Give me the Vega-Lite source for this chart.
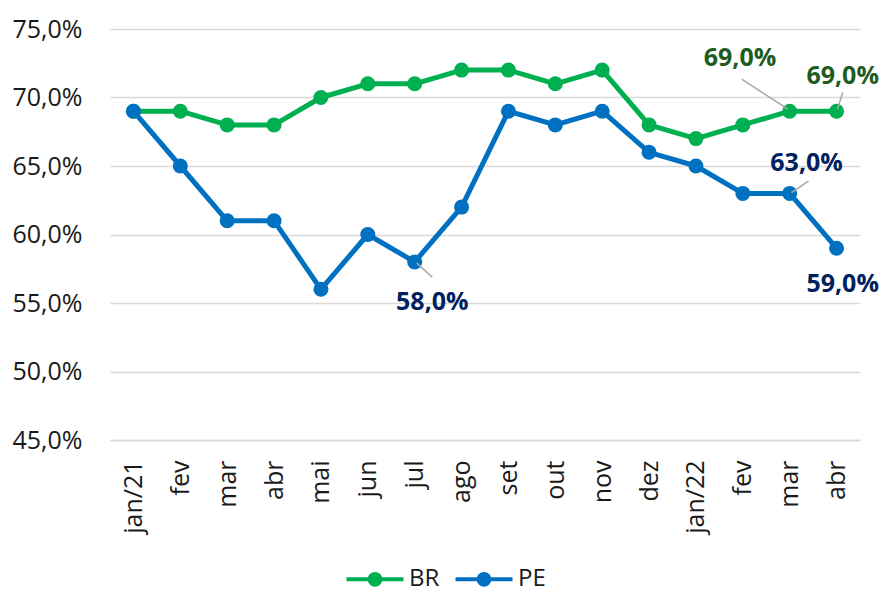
{
  "$schema": "https://vega.github.io/schema/vega-lite/v6.json",
  "autosize": "none",
  "width": 750,
  "height": 411,
  "padding": {"left": 110, "top": 29, "right": 22, "bottom": 149},
  "background": "white",
  "config": {
    "view": {"stroke": null},
    "font": "Open Sans",
    "axis": {"labelFont": "Open Sans", "labelColor": "#1a1a1a", "ticks": false, "title": null},
    "legend": {"labelFont": "Open Sans"}
  },
  "datasets": {
    "series": [
      {"i": 0, "month": "jan/21", "series": "BR", "value": 69},
      {"i": 1, "month": "fev", "series": "BR", "value": 69},
      {"i": 2, "month": "mar", "series": "BR", "value": 68},
      {"i": 3, "month": "abr", "series": "BR", "value": 68},
      {"i": 4, "month": "mai", "series": "BR", "value": 70},
      {"i": 5, "month": "jun", "series": "BR", "value": 71},
      {"i": 6, "month": "jul", "series": "BR", "value": 71},
      {"i": 7, "month": "ago", "series": "BR", "value": 72},
      {"i": 8, "month": "set", "series": "BR", "value": 72},
      {"i": 9, "month": "out", "series": "BR", "value": 71},
      {"i": 10, "month": "nov", "series": "BR", "value": 72},
      {"i": 11, "month": "dez", "series": "BR", "value": 68},
      {"i": 12, "month": "jan/22", "series": "BR", "value": 67},
      {"i": 13, "month": "fev", "series": "BR", "value": 68},
      {"i": 14, "month": "mar", "series": "BR", "value": 69},
      {"i": 15, "month": "abr", "series": "BR", "value": 69},
      {"i": 0, "month": "jan/21", "series": "PE", "value": 69},
      {"i": 1, "month": "fev", "series": "PE", "value": 65},
      {"i": 2, "month": "mar", "series": "PE", "value": 61},
      {"i": 3, "month": "abr", "series": "PE", "value": 61},
      {"i": 4, "month": "mai", "series": "PE", "value": 56},
      {"i": 5, "month": "jun", "series": "PE", "value": 60},
      {"i": 6, "month": "jul", "series": "PE", "value": 58},
      {"i": 7, "month": "ago", "series": "PE", "value": 62},
      {"i": 8, "month": "set", "series": "PE", "value": 69},
      {"i": 9, "month": "out", "series": "PE", "value": 68},
      {"i": 10, "month": "nov", "series": "PE", "value": 69},
      {"i": 11, "month": "dez", "series": "PE", "value": 66},
      {"i": 12, "month": "jan/22", "series": "PE", "value": 65},
      {"i": 13, "month": "fev", "series": "PE", "value": 63},
      {"i": 14, "month": "mar", "series": "PE", "value": 63},
      {"i": 15, "month": "abr", "series": "PE", "value": 59}
    ],
    "labels": [
      {"series": "BR", "x": 12.94, "y": 72.85, "label": "69,0%"},
      {"series": "BR", "x": 15.13, "y": 71.6, "label": "69,0%"},
      {"series": "PE", "x": 14.36, "y": 65.2, "label": "63,0%"},
      {"series": "PE", "x": 15.13, "y": 56.4, "label": "59,0%"},
      {"series": "PE", "x": 6.376, "y": 55.05, "label": "58,0%"}
    ],
    "leaders": [
      {"x": 12.976, "y": 71.34, "x2": 13.96, "y2": 69.15},
      {"x": 15.13, "y": 70.37, "x2": 15.02, "y2": 69.15},
      {"x": 14.4, "y": 63.9, "x2": 14.04, "y2": 63.05},
      {"x": 6.04, "y": 57.93, "x2": 6.376, "y2": 56.88}
    ]
  },
  "layer": [
    {
      "data": {"name": "series"},
      "mark": {"type": "line", "strokeWidth": 5, "strokeJoin": "round"},
      "encoding": {
        "x": {
          "field": "i", "type": "quantitative",
          "scale": {"domain": [-0.5, 15.5], "nice": false, "zero": false},
          "axis": {
            "values": [0, 1, 2, 3, 4, 5, 6, 7, 8, 9, 10, 11, 12, 13, 14, 15],
            "labelExpr": "['jan/21','fev','mar','abr','mai','jun','jul','ago','set','out','nov','dez','jan/22','fev','mar','abr'][datum.value]",
            "labelAngle": -90, "labelFontSize": 25, "labelPadding": 20,
            "grid": false, "domain": true, "domainColor": "#D9D9D9", "domainWidth": 1.5,
            "labelFlush": false, "labelOverlap": false
          }
        },
        "y": {
          "field": "value", "type": "quantitative",
          "scale": {"domain": [45, 75], "nice": false, "zero": false},
          "axis": {
            "values": [45, 50, 55, 60, 65, 70, 75],
            "labelExpr": "replace(format(datum.value, '.1f'), '.', ',') + '%'",
            "labelFontSize": 25, "labelPadding": 28, "domain": false,
            "grid": true, "gridColor": "#D9D9D9", "gridWidth": 1.5
          }
        },
        "color": {
          "field": "series", "type": "nominal",
          "scale": {"domain": ["BR", "PE"], "range": ["#00B050", "#0070C0"]},
          "legend": {
            "title": null, "orient": "none", "direction": "horizontal",
            "legendX": 253, "legendY": 538,
            "symbolType": "M-2.85,0L2.85,0M-0.54,0A0.54,0.54,0,1,0,0.54,0A0.54,0.54,0,1,0,-0.54,0Z",
            "symbolSize": 400, "symbolStrokeWidth": 4,
            "labelFontSize": 24, "labelColor": "#1a1a1a", "labelOffset": 22,
            "columnPadding": 7,
            "encode": {"symbols": {"update": {"fill": {"scale": "color", "field": "value"}, "stroke": {"scale": "color", "field": "value"}, "opacity": {"value": 1}}}}
          }
        }
      }
    },
    {
      "data": {"name": "series"},
      "mark": {"type": "point", "filled": true, "size": 225, "opacity": 1},
      "encoding": {
        "x": {"field": "i", "type": "quantitative"},
        "y": {"field": "value", "type": "quantitative"},
        "color": {"field": "series", "type": "nominal"}
      }
    },
    {
      "data": {"name": "leaders"},
      "mark": {"type": "rule", "color": "#A6A6A6", "strokeWidth": 1.5},
      "encoding": {
        "x": {"field": "x", "type": "quantitative"},
        "y": {"field": "y", "type": "quantitative"},
        "x2": {"field": "x2"},
        "y2": {"field": "y2"}
      }
    },
    {
      "data": {"name": "labels"},
      "mark": {"type": "text", "fontSize": 25, "fontWeight": "bold", "font": "Open Sans", "align": "center", "baseline": "middle"},
      "encoding": {
        "x": {"field": "x", "type": "quantitative"},
        "y": {"field": "y", "type": "quantitative"},
        "text": {"field": "label"},
        "color": {"condition": {"test": "datum.series === 'BR'", "value": "#1E5C1E"}, "value": "#002060"}
      }
    }
  ]
}
